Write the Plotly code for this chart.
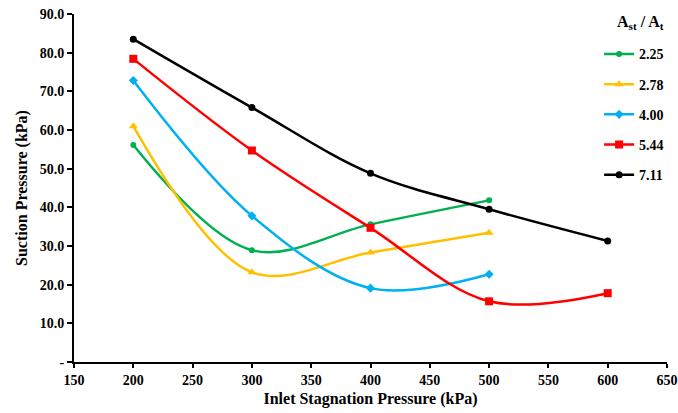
import plotly.graph_objects as go

x_vals = [200, 300, 400, 500, 600]
series_names = ["2.25", "2.78", "4.00", "5.44", "7.11"]
s_225 = [56.1, 28.9, 35.6, 41.8]
s_278 = [61.0, 23.2, 28.3, 33.4]
s_400 = [72.8, 37.8, 19.1, 22.7]
s_544 = [78.4, 54.7, 34.7, 15.7, 17.8]
s_711 = [83.5, 65.8, 48.8, 39.5, 31.3]
y_tick_vals = [0, 10, 20, 30, 40, 50, 60, 70, 80, 90]
y_tick_text = ["-", "10.0", "20.0", "30.0", "40.0", "50.0", "60.0", "70.0", "80.0", "90.0"]
x_tick_vals = [150, 200, 250, 300, 350, 400, 450, 500, 550, 600, 650]
legend_title = "<b>A<sub>st</sub> / A<sub>t</sub></b>"

colors = ["#00B050", "#FFC000", "#00B0F0", "#FF0000", "#000000"]
symbols = ["circle", "triangle-up", "diamond", "square", "circle"]
sizes = [6, 8, 7, 8, 7]
data = [s_225, s_278, s_400, s_544, s_711]

FONT = "Liberation Serif"
fig = go.Figure()
for name, ys, c, sym, sz in zip(series_names, data, colors, symbols, sizes):
    fig.add_trace(go.Scatter(
        x=x_vals[:len(ys)], y=ys, name=name, mode="lines+markers",
        line=dict(color=c, width=2.5, shape="spline", smoothing=1.0),
        marker=dict(color=c, symbol=sym, size=sz),
        legendgroup=name,
    ))

fig.add_annotation(
    text=legend_title, xref="paper", yref="paper", x=0.955, y=0.977,
    xanchor="center", yanchor="middle", showarrow=False,
    font=dict(family=FONT, size=16, color="black"),
)

fig.update_layout(
    width=678, height=413,
    margin=dict(l=74, r=10, t=14, b=51),
    paper_bgcolor="white", plot_bgcolor="white",
    font=dict(family=FONT, size=14, color="black"),
    showlegend=True,
    legend=dict(
        x=0.884, y=0.93, xanchor="left", yanchor="top",
        bgcolor="rgba(0,0,0,0)",
        font=dict(family=FONT, size=14, weight="bold"),
        tracegroupgap=9,
        itemwidth=30,
    ),
    xaxis=dict(
        range=[150, 650], tickvals=x_tick_vals, automargin=False,
        showline=True, linecolor="black", linewidth=2,
        ticks="outside", ticklen=4, tickwidth=2, tickcolor="black",
        showgrid=False, zeroline=False,
        tickfont=dict(family=FONT, size=14, weight="bold"),
        title=dict(text="<b>Inlet Stagnation Pressure (kPa)</b>", font=dict(family=FONT, size=16), standoff=6),
    ),
    yaxis=dict(
        range=[0, 90], tickvals=y_tick_vals, ticktext=y_tick_text, automargin=False,
        showline=True, linecolor="black", linewidth=2,
        ticks="outside", ticklen=5, tickwidth=2, tickcolor="black",
        showgrid=False, zeroline=False,
        tickfont=dict(family=FONT, size=14, weight="bold"),
        title=dict(text="<b>Suction Pressure (kPa)</b>", font=dict(family=FONT, size=16), standoff=8),
    ),
)

fig.write_html("out.html")
